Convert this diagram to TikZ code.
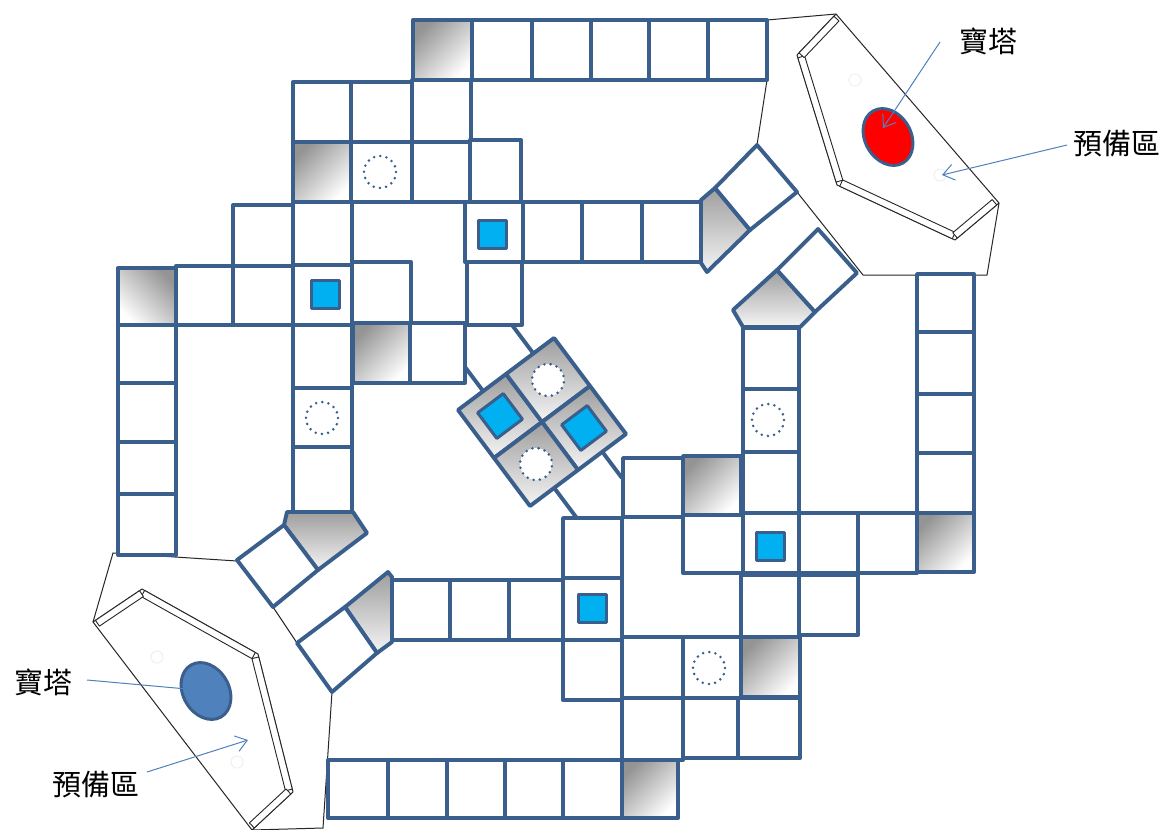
\documentclass[tikz,border=0pt]{standalone}
\usepackage{fontspec}
\newfontfamily\cjk{Noto Sans CJK TC}
\usetikzlibrary{calc,arrows.meta}
\definecolor{bdr}{RGB}{58,95,140}
\definecolor{cyanb}{RGB}{0,176,240}
\definecolor{arrowc}{RGB}{79,129,189}
\definecolor{pawnb}{RGB}{79,129,189}
\newcommand\bcell[4]{\draw[cell] (#1,#2) rectangle (#3,#4);}
\newcommand\graycell[5]{\draw[gcell,shading angle=#5] (#1,#2) rectangle (#3,#4);}
\newcommand\bsqat[2]{\draw[bsq] (#1-14,#2-14) rectangle (#1+14,#2+14);}
\newcommand\dotcirc[2]{\draw[dotc] (#1,#2) circle[radius=16];}
\newcommand\wallseg[2]{%
  \path ($(#1)!3pt!(#2)$) coordinate (w1) ($(#2)!3pt!(#1)$) coordinate (w2);
  \draw[wall] (w1) -- (w2) -- ($(w2)!7pt!90:(w1)$) -- ($(w1)!7pt!-90:(w2)$) -- cycle;}
\begin{document}
\begin{tikzpicture}[x=1pt,y=-1pt,
  cell/.style={draw=bdr,line width=3.9pt,fill=white,line join=round},
  gcell/.style={draw=bdr,line width=3.9pt,line join=round,top color=black!42,bottom color=white},
  piece/.style={draw=bdr,line width=3.9pt,line join=round,top color=black!38,bottom color=white!96!black},
  bsq/.style={draw=bdr,line width=3pt,fill=cyanb,line join=round},
  dotc/.style={draw=bdr,line width=2.8pt,line cap=round,dash pattern=on 0pt off 6.3pt},
  bridge/.style={draw=bdr,line width=3.9pt},
  hexo/.style={draw=black!85,line width=1pt,fill=white,line join=round},
  baseline/.style={draw=black!85,line width=1pt},
  wall/.style={draw=black!85,line width=0.9pt,fill=white,line join=round},
  faint/.style={draw=black!6,line width=1pt},
  lbl/.style={font=\cjk\fontsize{29}{32}\selectfont,inner sep=0pt,text=black},
  arr/.style={draw=arrowc,line width=1pt,-{Straight Barb[length=11pt,width=16pt]}}]
\fill[white] (0,0) rectangle (1165,830);
\useasboundingbox (0,0) rectangle (1165,830);

% ---------- base outlines
\draw[baseline] (767,20) -- (836,14);
\draw[baseline] (767,80) -- (757,145);
\draw[baseline] (797,192) -- (863,275) -- (987,275) -- (999,203);
\draw[baseline] (237,561) -- (113,553) -- (93,622);
\draw[baseline] (273,607) -- (297,643);
\draw[baseline] (332,692) -- (323,828) -- (252,830);

% ---------- top-right base
\coordinate (A) at (836,14);
\coordinate (B) at (999,203);
\coordinate (C) at (955,240);
\coordinate (D) at (837,185);
\coordinate (E) at (797,55);
\draw[hexo] (A) -- (B) -- (C) -- (D) -- (E) -- cycle;
\wallseg{D}{E}
\wallseg{C}{D}
\wallseg{E}{A}
\wallseg{B}{C}
\draw[faint] (855,80) circle[radius=6];
\draw[faint] (940,175) circle[radius=6];
\draw[draw=bdr,line width=3pt,fill=red,rotate around={30:(888,137)}] (888,137) ellipse [x radius=23,y radius=30];

% ---------- bottom-left base
\coordinate (L) at (93,622);
\coordinate (T) at (142,589);
\coordinate (R) at (258,654);
\coordinate (Q) at (293,792);
\coordinate (S) at (252,830);
\draw[hexo] (L) -- (T) -- (R) -- (Q) -- (S) -- cycle;
\wallseg{T}{R}
\wallseg{R}{Q}
\wallseg{L}{T}
\wallseg{Q}{S}
\draw[faint] (157,657) circle[radius=6];
\draw[faint] (237,762) circle[radius=6];
\draw[draw=bdr,line width=3pt,fill=pawnb,rotate around={30:(206,691)}] (206,691) ellipse [x radius=23,y radius=30];

% ---------- bridges to the centre
\draw[bridge] (512,325) -- (533.4,353.5);
\draw[bridge] (465,367) -- (483,391);
\draw[bridge] (602.3,451.8) -- (622,478);
\draw[bridge] (554.2,487.9) -- (576,517);

% ---------- cells
% top row
\graycell{413}{20}{472}{80}{45}
\bcell{472}{20}{532}{80}\bcell{532}{20}{591}{80}\bcell{591}{20}{649}{80}
\bcell{649}{20}{708}{80}\bcell{708}{20}{767}{80}
% row 2
\bcell{293}{82}{351}{142}\bcell{351}{82}{412}{142}\bcell{412}{80}{471}{142}
% row 3
\graycell{293}{142}{351}{202}{45}
\bcell{351}{142}{412}{202}\bcell{412}{142}{470}{202}\bcell{470}{140}{521}{202}
% row 4
\bcell{233}{205}{293}{266}\bcell{293}{202}{352}{265}
\bcell{465}{202}{523}{262}\bcell{523}{202}{582}{262}\bcell{582}{202}{642}{262}\bcell{642}{202}{701}{262}
% row 5
\graycell{118}{268}{176}{325}{-45}
\bcell{176}{266}{233}{325}\bcell{233}{266}{293}{325}\bcell{293}{265}{352}{325}
\bcell{352}{262}{411}{323}\bcell{467}{262}{522}{325}
% row 6
\bcell{118}{325}{176}{383}\bcell{293}{325}{352}{388}
\graycell{353}{323}{410}{383}{45}
\bcell{410}{323}{465}{383}
% left column
\bcell{118}{383}{176}{442}\bcell{118}{442}{176}{494}\bcell{118}{494}{176}{555}
% middle-left column
\bcell{293}{388}{352}{447}\bcell{293}{447}{352}{512}
% right column
\bcell{917}{274}{974}{332}\bcell{917}{332}{974}{394}\bcell{917}{394}{974}{453}\bcell{917}{453}{974}{513}
\graycell{917}{513}{974}{572}{45}
% middle-right column
\bcell{743}{328}{799}{389}\bcell{743}{389}{799}{452}\bcell{743}{452}{799}{513}
% lower right block
\bcell{623}{458}{683}{517}
\graycell{683}{456}{741}{515}{45}
\bcell{563}{518}{622}{578}\bcell{683}{515}{743}{573}\bcell{743}{513}{799}{573}
\bcell{799}{513}{858}{573}\bcell{858}{513}{917}{573}
\bcell{392}{580}{450}{640}\bcell{450}{580}{509}{640}\bcell{509}{580}{563}{640}
\bcell{563}{578}{622}{640}\bcell{741}{575}{799}{637}\bcell{799}{575}{858}{635}
\bcell{563}{640}{622}{700}\bcell{622}{637}{683}{698}\bcell{683}{637}{741}{698}
\graycell{741}{637}{800}{697}{45}
\bcell{622}{698}{683}{760}\bcell{683}{698}{738}{758}\bcell{738}{698}{800}{758}
% bottom row
\bcell{328}{760}{388}{818}\bcell{388}{760}{447}{818}\bcell{447}{760}{505}{818}
\bcell{505}{760}{563}{818}\bcell{563}{760}{622}{818}
\graycell{622}{760}{678}{818}{45}

% blue squares and dotted circles in cells
\bsqat{492}{234}
\bsqat{325}{294}
\bsqat{770}{546}
\bsqat{592}{608}
\dotcirc{380}{172}
\dotcirc{322}{418}
\dotcirc{768}{420}
\dotcirc{709}{668}

% ---------- angled pieces
\draw[piece] (701,200) -- (715,188) -- (750,230) -- (707,272) -- (701,263) -- cycle;
\draw[cell] (715,188) -- (757,145) -- (797,192) -- (750,230) -- cycle;
\draw[piece] (733,310) -- (777,270) -- (815,312) -- (800,327) -- (743,327) -- cycle;
\draw[cell] (777,270) -- (818,229) -- (857,273) -- (815,312) -- cycle;
\draw[piece] (287,512) -- (353,512) -- (367,533) -- (318,570) -- (284,525) -- cycle;
\draw[cell] (284,525) -- (318,570) -- (273,607) -- (237,560) -- cycle;
\draw[piece] (345,607) -- (388,572) -- (392,577) -- (392,642) -- (377,653) -- cycle;
\draw[cell] (297,643) -- (345,607) -- (377,653) -- (332,692) -- cycle;

% ---------- centre diamond
\begin{scope}[shift={(542,422)},x={(0.8pt,0.6pt)},y={(0.6pt,-0.8pt)}]
  \foreach \a/\b in {-60/-60,0/-60,0/0,-60/0}
    \draw[piece] (\a,\b) -- ++(60,0) -- ++(0,60) -- ++(-60,0) -- cycle;
  \draw[bsq] (-46,-46) -- (-14,-46) -- (-14,-14) -- (-46,-14) -- cycle;
  \draw[bsq] (14,14) -- (46,14) -- (46,46) -- (14,46) -- cycle;
  \fill[white] (30,-30) circle[radius=16];
  \fill[white] (-30,30) circle[radius=16];
  \draw[dotc] (30,-30) circle[radius=16];
  \draw[dotc] (-30,30) circle[radius=16];
\end{scope}

% ---------- labels and arrows
\node[lbl] (tr1) at (988,41) {寶塔};
\node[lbl] (tr2) at (1117,144) {預備區};
\node[lbl] (bl1) at (43,682) {寶塔};
\node[lbl] (bl2) at (96,785) {預備區};
\coordinate (tr1s) at (940,42);
\coordinate (tr1e) at (883,128);
\coordinate (tr2s) at (1067,145);
\coordinate (tr2e) at (942,175);
\coordinate (bl1s) at (87,680);
\coordinate (bl1e) at (198,690);
\coordinate (bl2s) at (147,772);
\coordinate (bl2e) at (248,740);
\draw[arr] (tr1s) -- (tr1e);
\draw[arr] (tr2s) -- (tr2e);
\draw[arr] (bl1s) -- (bl1e);
\draw[arr] (bl2s) -- (bl2e);
\end{tikzpicture}
\end{document}
